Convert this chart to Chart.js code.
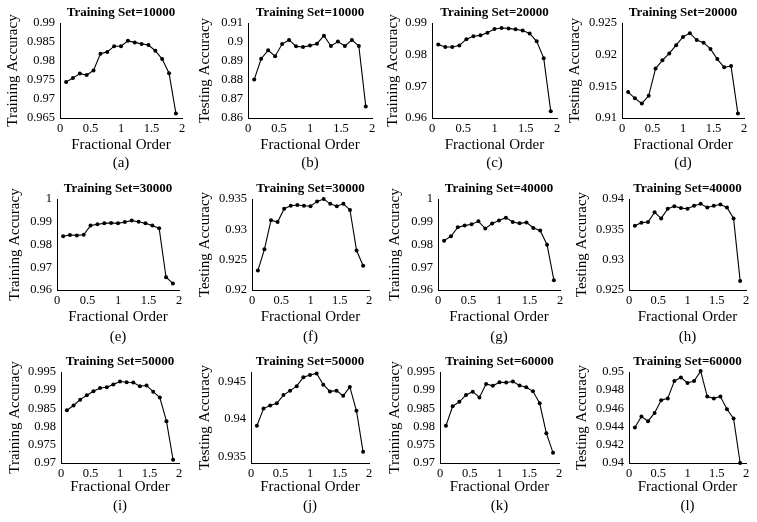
<!DOCTYPE html>
<html>
<head>
<meta charset="utf-8">
<script src="https://cdn.jsdelivr.net/npm/chart.js@4/dist/chart.umd.min.js"></script>
<style>
    body { margin: 0; background: #fff; width: 757px; height: 522px; position: relative; overflow: hidden; }
    canvas { position: absolute; }
</style>
</head>
<body>
<script>
const fractionalOrder = [0.1, 0.2125, 0.325, 0.4375, 0.55, 0.6625, 0.775, 0.8875, 1.0, 1.1125, 1.225, 1.3375, 1.45, 1.5625, 1.675, 1.7875, 1.9];
const xTicks = [0, 0.5, 1, 1.5, 2];

const trainAcc10000 = [0.9745, 0.9755, 0.9767, 0.9763, 0.9775, 0.9819, 0.9824, 0.9839, 0.9839, 0.9853, 0.9849, 0.9845, 0.9842, 0.9827, 0.9805, 0.9768, 0.9662];
const testAcc10000  = [0.8802, 0.8912, 0.8956, 0.8925, 0.8989, 0.9011, 0.8977, 0.8974, 0.8981, 0.8991, 0.9033, 0.8979, 0.9002, 0.8979, 0.9011, 0.8979, 0.8660];
const trainAcc20000 = [0.9832, 0.9824, 0.9824, 0.9829, 0.9849, 0.9858, 0.9861, 0.9869, 0.9881, 0.9884, 0.9883, 0.9880, 0.9876, 0.9867, 0.9842, 0.9789, 0.9621];
const testAcc20000  = [0.9141, 0.9131, 0.9123, 0.9135, 0.9178, 0.9191, 0.9202, 0.9215, 0.9228, 0.9234, 0.9223, 0.9219, 0.9209, 0.9193, 0.9180, 0.9182, 0.9107];
const trainAcc30000 = [0.9836, 0.9842, 0.9840, 0.9843, 0.9883, 0.9889, 0.9893, 0.9895, 0.9893, 0.9899, 0.9905, 0.9900, 0.9893, 0.9883, 0.9871, 0.9656, 0.9629];
const testAcc30000  = [0.9232, 0.9267, 0.9315, 0.9312, 0.9334, 0.9339, 0.9340, 0.9339, 0.9338, 0.9346, 0.9350, 0.9342, 0.9338, 0.9342, 0.9332, 0.9265, 0.9240];
const trainAcc40000 = [0.9817, 0.9836, 0.9876, 0.9883, 0.9889, 0.9902, 0.9870, 0.9892, 0.9905, 0.9918, 0.9899, 0.9893, 0.9897, 0.9873, 0.9862, 0.9799, 0.9643];
const testAcc40000  = [0.9356, 0.9361, 0.9362, 0.9378, 0.9368, 0.9384, 0.9388, 0.9385, 0.9384, 0.9389, 0.9392, 0.9386, 0.9389, 0.9391, 0.9386, 0.9368, 0.9265];
const trainAcc50000 = [0.9845, 0.9858, 0.9874, 0.9886, 0.9897, 0.9906, 0.9908, 0.9916, 0.9924, 0.9922, 0.9921, 0.9911, 0.9913, 0.9896, 0.9880, 0.9815, 0.9709];
const testAcc50000  = [0.9391, 0.9414, 0.9418, 0.9421, 0.9432, 0.9438, 0.9444, 0.9456, 0.9459, 0.9461, 0.9446, 0.9437, 0.9438, 0.9431, 0.9443, 0.9411, 0.9356];
const trainAcc60000 = [0.9802, 0.9856, 0.9868, 0.9887, 0.9896, 0.9880, 0.9917, 0.9912, 0.9922, 0.9921, 0.9924, 0.9913, 0.9908, 0.9897, 0.9864, 0.9782, 0.9728];
const testAcc60000  = [0.9439, 0.9451, 0.9446, 0.9455, 0.9469, 0.9471, 0.9490, 0.9494, 0.9488, 0.9490, 0.9501, 0.9473, 0.9471, 0.9473, 0.9459, 0.9449, 0.9400];

const yTicksA = [0.965, 0.97, 0.975, 0.98, 0.985, 0.99];
const yTicksB = [0.86, 0.87, 0.88, 0.89, 0.9, 0.91];
const yTicksC = [0.96, 0.97, 0.98, 0.99];
const yTicksD = [0.91, 0.915, 0.92, 0.925];
const yTicksE = [0.96, 0.97, 0.98, 0.99, 1];
const yTicksF = [0.92, 0.925, 0.93, 0.935];
const yTicksH = [0.925, 0.93, 0.935, 0.94];
const yTicksI = [0.97, 0.975, 0.98, 0.985, 0.99, 0.995];
const yTicksJ = [0.935, 0.94, 0.945];
const yTicksL = [0.94, 0.942, 0.944, 0.946, 0.948, 0.95];

// rows: plot top/bottom, centre of x title and of the (a) tag below the plot
const rows = [
    { top: 23, bottom: 118, xTitle: 27, tag: 45 },
    { top: 199, bottom: 290, xTitle: 27, tag: 47 },
    { top: 372, bottom: 463, xTitle: 24, tag: 43 },
];

const panels = [
    { tag: "(a)", set: "10000", yLabel: "Training Accuracy", values: trainAcc10000, ticks: yTicksA, row: 0, titleX: 13, left: 60, right: 182 },
    { tag: "(b)", set: "10000", yLabel: "Testing Accuracy", values: testAcc10000, ticks: yTicksB, row: 0, titleX: 205, left: 248, right: 372 },
    { tag: "(c)", set: "20000", yLabel: "Training Accuracy", values: trainAcc20000, ticks: yTicksC, row: 0, titleX: 393, left: 432, right: 557 },
    { tag: "(d)", set: "20000", yLabel: "Testing Accuracy", values: testAcc20000, ticks: yTicksD, row: 0, titleX: 575, left: 622, right: 744 },
    { tag: "(e)", set: "30000", yLabel: "Training Accuracy", values: trainAcc30000, ticks: yTicksE, row: 1, titleX: 15, left: 57, right: 179 },
    { tag: "(f)", set: "30000", yLabel: "Testing Accuracy", values: testAcc30000, ticks: yTicksF, row: 1, titleX: 205, left: 252, right: 369 },
    { tag: "(g)", set: "40000", yLabel: "Training Accuracy", values: trainAcc40000, ticks: yTicksE, row: 1, titleX: 395, left: 438, right: 560 },
    { tag: "(h)", set: "40000", yLabel: "Testing Accuracy", values: testAcc40000, ticks: yTicksH, row: 1, titleX: 582, left: 629, right: 746 },
    { tag: "(i)", set: "50000", yLabel: "Training Accuracy", values: trainAcc50000, ticks: yTicksI, row: 2, titleX: 15, left: 61, right: 179 },
    { tag: "(j)", set: "50000", yLabel: "Testing Accuracy", values: testAcc50000, ticks: yTicksJ, row: 2, titleX: 205, left: 251, right: 369, yMin: 0.9341, yMax: 0.9463 },
    { tag: "(k)", set: "60000", yLabel: "Training Accuracy", values: trainAcc60000, ticks: yTicksI, row: 2, titleX: 395, left: 440, right: 559 },
    { tag: "(l)", set: "60000", yLabel: "Testing Accuracy", values: testAcc60000, ticks: yTicksL, row: 2, titleX: 582, left: 629, right: 746 },
];

Chart.defaults.font.family = '"Liberation Serif", "Times New Roman", serif';
Chart.defaults.color = "#000";

const fmt = (v) => String(+v.toFixed(4));
const labelSize = 15;
const labelLH = 18;

panels.forEach((p) => {
    const row = rows[p.row];
    const canvasLeft = Math.round(p.titleX - labelLH / 2);
    const titleH = 18;
    const gap = row.tag - row.xTitle; // line height between "Fractional Order" and tag
    const xAxisH = Math.round(row.tag + gap / 2);
    const w = p.right + 10 - canvasLeft;
    const h = titleH + (row.bottom - row.top) + xAxisH;

    const canvas = document.createElement("canvas");
    canvas.width = w;
    canvas.height = h;
    canvas.style.left = canvasLeft + "px";
    canvas.style.top = (row.top - titleH) + "px";
    document.body.appendChild(canvas);

    new Chart(canvas.getContext("2d"), {
        type: "line",
        data: {
            datasets: [{
                data: fractionalOrder.map((x, i) => ({ x: x, y: p.values[i] })),
                borderColor: "#000",
                borderWidth: 1.1,
                pointRadius: 2,
                pointBackgroundColor: "#000",
                pointBorderWidth: 0,
                tension: 0,
                clip: false,
            }],
        },
        options: {
            responsive: false,
            animation: false,
            devicePixelRatio: 1,
            layout: { padding: { left: 0, top: 0, right: 10, bottom: 0 } },
            plugins: {
                legend: { display: false },
                tooltip: { enabled: false },
                title: {
                    display: true,
                    fullSize: false,
                    text: "Training Set=" + p.set,
                    font: { size: 13, weight: "bold", lineHeight: "15px" },
                    padding: { top: 0.5, bottom: 2.5 },
                },
            },
            scales: {
                x: {
                    type: "linear",
                    min: 0,
                    max: 2,
                    afterBuildTicks: (s) => { s.ticks = xTicks.map((v) => ({ value: v })); },
                    afterFit: (s) => { s.height = xAxisH; },
                    grid: { display: false, drawTicks: false },
                    border: { display: true, color: "#000", width: 1 },
                    ticks: { padding: 3, font: { size: 12.5, lineHeight: "15px" }, callback: fmt, maxRotation: 0 },
                    title: { display: true, text: ["Fractional Order", p.tag], font: { size: labelSize, lineHeight: gap + "px" }, padding: 0 },
                },
                y: {
                    type: "linear",
                    min: p.yMin !== undefined ? p.yMin : p.ticks[0],
                    max: p.yMax !== undefined ? p.yMax : p.ticks[p.ticks.length - 1],
                    afterBuildTicks: (s) => { s.ticks = p.ticks.map((v) => ({ value: v })); },
                    afterFit: (s) => { s.width = p.left - canvasLeft; },
                    grid: { display: false, drawTicks: false },
                    border: { display: true, color: "#000", width: 1 },
                    ticks: { padding: 5, font: { size: 12.5 }, callback: fmt },
                    title: { display: true, text: p.yLabel, font: { size: labelSize, lineHeight: labelLH + "px" }, padding: 0 },
                },
            },
        },
    });
});
</script>
</body>
</html>
